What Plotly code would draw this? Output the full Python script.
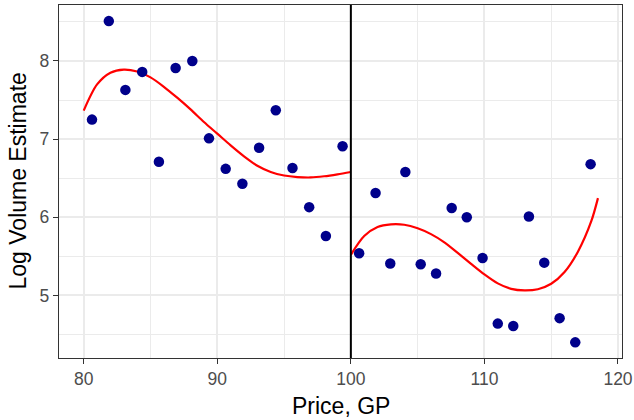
import plotly.graph_objects as go

# Binned points, left of cutoff (price < 100)
x_left = [80.62, 81.88, 83.12, 84.38, 85.63, 86.88, 88.13, 89.38, 90.63, 91.88,
          93.13, 94.38, 95.63, 96.88, 98.13, 99.38]
y_left = [7.25, 8.51, 7.63, 7.86, 6.71, 7.91, 8.00, 7.01, 6.62, 6.43,
          6.89, 7.37, 6.63, 6.13, 5.76, 6.91]
# Binned points, right of cutoff (price >= 100)
x_right = [100.62, 101.85, 102.95, 104.08, 105.23, 106.38, 107.55, 108.68, 109.86,
           111.00, 112.16, 113.33, 114.48, 115.63, 116.80, 117.95]
y_right = [5.54, 6.31, 5.41, 6.58, 5.40, 5.28, 6.12, 6.00, 5.48,
           4.64, 4.61, 6.01, 5.42, 4.71, 4.40, 6.68]

# Fitted curves
fit_left_x = [80, 81, 82, 83, 84, 85, 86, 87, 88, 89, 90,
              91, 92, 93, 94, 95, 96, 97, 98, 99, 100]
fit_left_y = [7.365, 7.70, 7.85, 7.89, 7.865, 7.79, 7.67, 7.53, 7.38, 7.22, 7.07,
              6.92, 6.78, 6.66, 6.58, 6.535, 6.515, 6.51, 6.525, 6.55, 6.58]
fit_right_x = [100, 101, 102, 103, 104, 105, 106, 107, 108, 109, 110,
               111, 112, 113, 114, 115, 116, 117, 118, 118.5]
fit_right_y = [5.52, 5.76, 5.875, 5.91, 5.905, 5.86, 5.785, 5.68, 5.545, 5.405, 5.27,
               5.155, 5.085, 5.065, 5.08, 5.15, 5.30, 5.56, 5.95, 6.245]

cutoff = 100
x_ticks = [80, 90, 100, 110, 120]
y_ticks = [5, 6, 7, 8]

W, H = 634, 420
ML, MR, MT, MB = 59, 12, 5, 62
PW, PH = W - ML - MR, H - MT - MB

fig = go.Figure()
for fx, fy in [(fit_left_x, fit_left_y), (fit_right_x, fit_right_y)]:
    fig.add_trace(go.Scatter(x=fx, y=fy, mode="lines",
                             line=dict(color="#FF0000", width=2.2, shape="spline", smoothing=0.85),
                             hoverinfo="skip", showlegend=False))

fig.add_trace(go.Scatter(x=x_left + x_right, y=y_left + y_right, mode="markers",
                         marker=dict(color="#00008B", size=10.5),
                         showlegend=False))

fig.add_shape(type="line", x0=cutoff, x1=cutoff, xref="x", y0=0, y1=1, yref="paper",
              line=dict(color="black", width=2), layer="above")

fig.add_annotation(text="Price, GP", xref="paper", yref="paper",
                   x=0.5, y=-(406 - (MT + PH)) / PH, xanchor="center", yanchor="middle",
                   showarrow=False, font=dict(size=23, color="black"))
fig.add_annotation(text="Log Volume Estimate", xref="paper", yref="paper",
                   x=-(ML - 17) / PW, y=0.5, xanchor="center", yanchor="middle",
                   textangle=-90, showarrow=False, font=dict(size=23, color="black"))

grid = "#EBEBEB"
common = dict(showgrid=True, gridcolor=grid, gridwidth=1.5,
              zeroline=False, showline=True, linecolor="#333333", linewidth=1.3, mirror=True,
              ticks="outside", ticklen=5, tickcolor="#333333", tickwidth=1.3,
              tickfont=dict(size=17.5, color="#4D4D4D"), automargin=False)
fig.update_layout(
    width=W, height=H,
    margin=dict(l=ML, r=MR, t=MT, b=MB),
    paper_bgcolor="white", plot_bgcolor="white",
    font=dict(family="Liberation Sans, Arial, sans-serif"),
    xaxis=dict(range=[78.15, 120.3], tickvals=x_ticks,
               minor=dict(tickvals=[85, 95, 105, 115], showgrid=True, gridcolor=grid, gridwidth=0.8),
               **common),
    yaxis=dict(range=[4.2, 8.716], tickvals=y_ticks,
               minor=dict(tickvals=[4.5, 5.5, 6.5, 7.5, 8.5], showgrid=True, gridcolor=grid, gridwidth=0.8),
               **common),
)

fig.write_html("out.html", config={"displayModeBar": False},
               post_script="document.body.style.margin='0';document.body.style.padding='0';")
